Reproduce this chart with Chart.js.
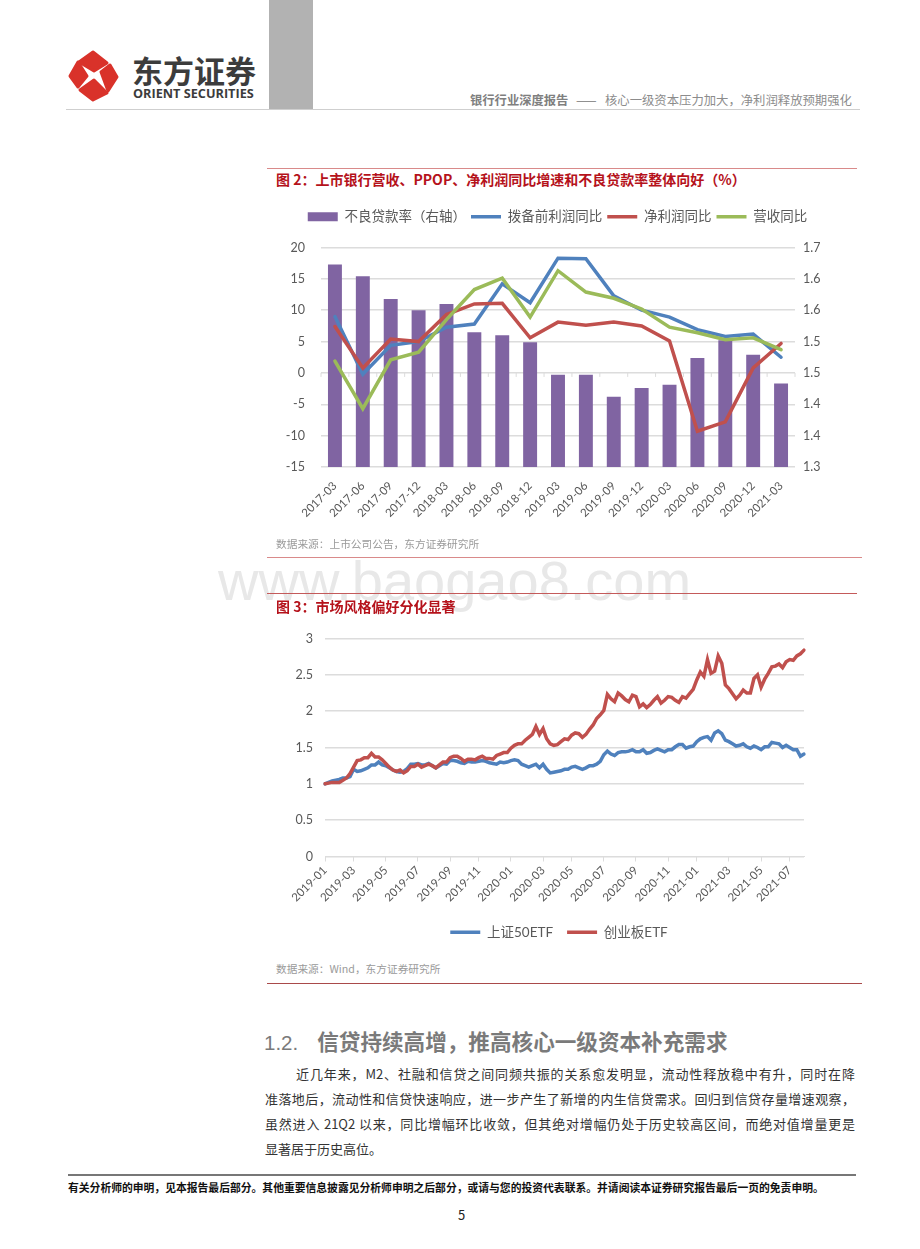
<!DOCTYPE html>
<html lang="zh">
<head>
<meta charset="utf-8">
<title>银行行业深度报告</title>
<script src="https://cdn.jsdelivr.net/npm/chart.js@4"></script>
<style>
  html, body { margin: 0; padding: 0; background: #fff; }
  body { position: relative; width: 920px; height: 1249px; overflow: hidden; font-family: "Noto Sans CJK SC", sans-serif; }
  .abs { position: absolute; white-space: nowrap; line-height: 1; }
  .rule { position: absolute; }
  canvas { position: absolute; }
  .body-line { position: absolute; left: 265px; width: 590px; font-size: 13px; line-height: 1; color: #333; text-align: justify; text-align-last: justify; white-space: normal; }
  .chart-title { color: #b5121b; font-size: 14px; font-weight: 700; left: 276px; }
  .source { color: #9a9a9a; font-size: 10.7px; left: 276px; }
</style>
</head>
<body>

<!-- page header -->
<div class="rule" style="left:269px;top:0;width:44px;height:109px;background:#b2b2b2"></div>
<div class="rule" style="left:66px;top:109px;width:794px;height:1px;background:#cfcfcf"></div>
<svg class="rule" style="left:60px;top:44px" width="66" height="64" viewBox="60 44 66 64">
  <g fill="#d9322a" stroke="#d9322a" stroke-width="3" stroke-linejoin="round">
    <polygon points="79,62 93,52 107,63 94,71"/>
    <polygon points="101,72 110,65 117,77 108,91"/>
    <polygon points="94,80 107,93 93,100 80,90"/>
    <polygon points="78,62 87,76 78,87 70,76"/>
  </g>
</svg>
<div class="abs" style="left:132px;top:54px;font-size:31px;font-weight:700;color:#3c3c3c">东方证券</div>
<div class="abs" style="left:133px;top:87px;font-size:12.7px;font-weight:700;color:#3c3c3c;font-family:'Open Sans',sans-serif">ORIENT SECURITIES</div>
<div class="abs" style="left:470px;top:94px;font-size:12.3px;font-weight:700;color:#7f7f7f">银行行业深度报告</div>
<div class="abs" style="left:576px;top:94px;font-size:12.3px;color:#777">——</div>
<div class="abs" style="left:605px;top:94px;font-size:12.35px;color:#8c8c8c">核心一级资本压力加大，净利润释放预期强化</div>

<!-- figure 2 -->
<div class="rule" style="left:267px;top:168px;width:590px;height:1px;background:#d98a8a"></div>
<div class="abs chart-title" style="top:172px">图 2：上市银行营收、PPOP、净利润同比增速和不良贷款率整体向好（%）</div>
<canvas id="bankChart" style="left:270px;top:205px;width:575px;height:335px"></canvas>
<div class="abs source" style="top:539px">数据来源：上市公司公告，东方证券研究所</div>
<div class="rule" style="left:267px;top:557px;width:595px;height:1px;background:#d98a8a"></div>

<div class="abs" style="left:218px;top:553px;font-size:56px;color:#e8e8e8;font-family:'Liberation Sans',sans-serif">www.baogao8.com</div>

<!-- figure 3 -->
<div class="rule" style="left:267px;top:593px;width:590px;height:1px;background:#c45a5a"></div>
<div class="abs chart-title" style="top:599px">图 3：市场风格偏好分化显著</div>
<canvas id="etfChart" style="left:270px;top:619px;width:578px;height:330px"></canvas>
<div class="abs source" style="top:964px">数据来源：Wind，东方证券研究所</div>
<div class="rule" style="left:267px;top:983px;width:595px;height:1px;background:#a94a4a"></div>

<!-- section text -->
<div class="abs" style="left:264px;top:1030px;font-size:21.6px;font-weight:700;color:#7a7a7a"><span style="font-weight:400;font-size:20.5px;font-family:'Liberation Sans',sans-serif">1.2.</span><span style="margin-left:19px">信贷持续高增，推高核心一级资本补充需求</span></div>
<div class="body-line" style="left:296px;width:559px;top:1067px">近几年来，M2、社融和信贷之间同频共振的关系愈发明显，流动性释放稳中有升，同时在降</div>
<div class="body-line" style="top:1092px">准落地后，流动性和信贷快速响应，进一步产生了新增的内生信贷需求。回归到信贷存量增速观察，</div>
<div class="body-line" style="top:1117px">虽然进入 21Q2 以来，同比增幅环比收敛，但其绝对增幅仍处于历史较高区间，而绝对值增量更是</div>
<div class="abs" style="left:265px;top:1142px;font-size:13px;color:#333">显著居于历史高位。</div>

<!-- page footer -->
<div class="rule" style="left:68px;top:1174px;width:788px;height:2px;background:#777"></div>
<div class="abs" style="left:68px;top:1182px;font-size:10.8px;font-weight:700;color:#111">有关分析师的申明，见本报告最后部分。其他重要信息披露见分析师申明之后部分，或请与您的投资代表联系。并请阅读本证券研究报告最后一页的免责申明。</div>
<div class="abs" style="left:458px;top:1208px;font-size:13px;color:#222">5</div>

<script>
/* ===============================
   DATA - FIGURE 2
================================ */
const quarters = [
  "2017-03", "2017-06", "2017-09", "2017-12", "2018-03", "2018-06", "2018-09", "2018-12", "2019-03",
  "2019-06", "2019-09", "2019-12", "2020-03", "2020-06", "2020-09", "2020-12", "2021-03"
];
const nplRatio = [1.623, 1.604, 1.568, 1.55, 1.56, 1.515, 1.51, 1.499, 1.447, 1.447, 1.412, 1.426, 1.431, 1.474, 1.502, 1.479, 1.433];
const ppopGrowth = [9.0, -0.2, 4.4, 5.0, 7.3, 7.8, 14.2, 11.2, 18.3, 18.2, 12.3, 10.0, 8.9, 6.9, 5.8, 6.2, 2.5];
const profitGrowth = [7.4, 0.8, 5.4, 5.0, 9.3, 11.0, 11.1, 5.6, 8.1, 7.6, 8.1, 7.5, 5.1, -9.3, -7.8, 0.8, 4.7];
const revenueGrowth = [1.9, -5.7, 2.1, 3.3, 8.5, 13.3, 15.1, 8.9, 16.3, 12.9, 11.9, 10.2, 7.3, 6.4, 5.3, 5.6, 3.7];
const leftTicks = [-15, -10, -5, 0, 5, 10, 15, 20];
const rightTickLabels = ["1.3", "1.4", "1.4", "1.5", "1.5", "1.6", "1.6", "1.7"];

/* ===============================
   DATA - FIGURE 3 (WEEKLY)
================================ */
const sse50Etf = [
  1.00, 1.02, 1.04, 1.05, 1.06, 1.08, 1.08, 1.10, 1.20, 1.17, 1.18, 1.20, 1.22, 1.26, 1.26, 1.30, 1.26, 1.25,
  1.22, 1.19, 1.17, 1.16, 1.17, 1.21, 1.27, 1.27, 1.28, 1.26, 1.26, 1.28, 1.25, 1.22, 1.25, 1.28, 1.27, 1.32,
  1.32, 1.31, 1.29, 1.28, 1.31, 1.30, 1.30, 1.31, 1.32, 1.31, 1.29, 1.28, 1.27, 1.30, 1.29, 1.30, 1.32, 1.33,
  1.32, 1.27, 1.25, 1.23, 1.25, 1.27, 1.22, 1.27, 1.20, 1.15, 1.16, 1.17, 1.18, 1.20, 1.20, 1.23, 1.24, 1.22,
  1.20, 1.22, 1.25, 1.25, 1.27, 1.31, 1.40, 1.45, 1.41, 1.39, 1.43, 1.44, 1.44, 1.45, 1.47, 1.44, 1.44, 1.47,
  1.42, 1.43, 1.46, 1.48, 1.46, 1.44, 1.47, 1.47, 1.51, 1.54, 1.54, 1.49, 1.51, 1.52, 1.58, 1.62, 1.64, 1.65,
  1.60, 1.70, 1.73, 1.69, 1.60, 1.58, 1.55, 1.52, 1.53, 1.55, 1.51, 1.49, 1.52, 1.50, 1.47, 1.51, 1.51, 1.57,
  1.56, 1.55, 1.50, 1.53, 1.50, 1.47, 1.47, 1.38, 1.41
];
const chinextEtf = [
  1.00, 1.01, 1.02, 1.02, 1.02, 1.05, 1.08, 1.14, 1.23, 1.32, 1.33, 1.36, 1.36, 1.42, 1.37, 1.37, 1.33, 1.28,
  1.23, 1.19, 1.17, 1.19, 1.15, 1.18, 1.24, 1.24, 1.27, 1.23, 1.25, 1.27, 1.25, 1.22, 1.26, 1.30, 1.30, 1.36,
  1.38, 1.38, 1.35, 1.31, 1.34, 1.34, 1.33, 1.36, 1.38, 1.35, 1.35, 1.34, 1.39, 1.41, 1.43, 1.43, 1.49, 1.53,
  1.55, 1.55, 1.60, 1.64, 1.68, 1.79, 1.68, 1.76, 1.62, 1.55, 1.53, 1.54, 1.58, 1.62, 1.61, 1.67, 1.70, 1.69,
  1.64, 1.68, 1.75, 1.81, 1.90, 1.95, 2.01, 2.23, 2.17, 2.13, 2.25, 2.21, 2.16, 2.13, 2.22, 2.20, 2.06, 2.10,
  2.05, 2.09, 2.15, 2.20, 2.11, 2.15, 2.20, 2.19, 2.15, 2.12, 2.20, 2.18, 2.24, 2.30, 2.43, 2.54, 2.48, 2.71,
  2.52, 2.55, 2.76, 2.66, 2.36, 2.31, 2.24, 2.17, 2.22, 2.29, 2.25, 2.25, 2.45, 2.50, 2.33, 2.44, 2.52, 2.61,
  2.62, 2.65, 2.60, 2.68, 2.71, 2.70, 2.76, 2.79, 2.84
];
// the first weekly point sits in the month named by each tick
const tickWeeks = [0, 8, 17, 26, 35, 43, 52, 61, 69, 78, 87, 96, 104, 113, 122, 130];
const tickMonths = [
  "2019-01", "2019-03", "2019-05", "2019-07", "2019-09", "2019-11", "2020-01", "2020-03",
  "2020-05", "2020-07", "2020-09", "2020-11", "2021-01", "2021-03", "2021-05", "2021-07"
];

/* ===============================
   SHARED STYLE
================================ */
const BLUE = "#4f81bd";
const RED = "#c0504d";
const GREEN = "#9bbb59";
const PURPLE = "#8064a2";
const GRID = "#dcdcdc";
const TEXT = "#595959";
const LATIN_FONT = "Lato, 'Noto Sans CJK SC', sans-serif";

function lineSet(label, data, color, order) {
  return {
    type: "line",
    label: label,
    data: data,
    order: order,
    borderColor: color,
    backgroundColor: color,
    borderWidth: 3.5,
    borderCapStyle: "round",
    pointStyle: "line",
    pointRadius: 0,
    pointHoverRadius: 0,
    pointBorderColor: color,
    pointBorderWidth: 3.5,
    tension: 0
  };
}

function legendLabels(padding) {
  return {
    usePointStyle: true,
    pointStyleWidth: 30,
    boxHeight: 9,
    padding: padding,
    color: TEXT,
    font: { family: LATIN_FONT, size: 13.5 },
    sort: (a, b) => a.datasetIndex - b.datasetIndex
  };
}

// Excel draws the category tick marks on the zero line
const zeroLineTicks = {
  id: "zeroLineTicks",
  beforeDatasetsDraw(chart) {
    const xScale = chart.scales.x;
    const yZero = chart.scales.y.getPixelForValue(0);
    const step = xScale.width / quarters.length;
    const ctx = chart.ctx;
    ctx.save();
    ctx.strokeStyle = GRID;
    ctx.lineWidth = 1;
    for (let i = 0; i <= quarters.length; i++) {
      const x = xScale.left + i * step;
      ctx.beginPath();
      ctx.moveTo(x, yZero);
      ctx.lineTo(x, yZero + 4);
      ctx.stroke();
    }
    ctx.restore();
  }
};

// room between the legend and the plot
const legendGap = {
  id: "legendGap",
  beforeInit(chart) {
    const fit = chart.legend.fit;
    chart.legend.fit = function () {
      fit.call(this);
      this.height += 14;
    };
  }
};

/* ===============================
   FIGURE 2
================================ */
new Chart(document.getElementById("bankChart"), {
  data: {
    labels: quarters,
    datasets: [
      {
        type: "bar",
        label: "不良贷款率（右轴）",
        data: nplRatio,
        yAxisID: "y1",
        order: 4,
        backgroundColor: PURPLE,
        pointStyle: "rect",
        barPercentage: 0.5,
        categoryPercentage: 1
      },
      lineSet("拨备前利润同比", ppopGrowth, BLUE, 3),
      lineSet("净利润同比", profitGrowth, RED, 2),
      lineSet("营收同比", revenueGrowth, GREEN, 1)
    ]
  },
  plugins: [zeroLineTicks, legendGap],
  options: {
    responsive: false,
    animation: false,
    plugins: {
      tooltip: { enabled: false },
      legend: { position: "top", labels: legendLabels(5) }
    },
    scales: {
      x: {
        grid: { display: false },
        border: { display: false },
        ticks: {
          autoSkip: false,
          minRotation: 45,
          maxRotation: 45,
          color: TEXT,
          padding: 4,
          font: { family: LATIN_FONT, size: 11.5 }
        },
        afterFit(scale) { scale.height = 73; }
      },
      y: {
        min: leftTicks[0],
        max: leftTicks[leftTicks.length - 1],
        grid: { color: GRID, lineWidth: 1.5, drawTicks: false },
        border: { display: false },
        afterBuildTicks(scale) { scale.ticks = leftTicks.map(v => ({ value: v })); },
        ticks: { color: TEXT, padding: 16, font: { family: LATIN_FONT, size: 12.5 } },
        afterFit(scale) { scale.width = 51; }
      },
      y1: {
        position: "right",
        min: 1.3,
        max: 1.65,
        grid: { display: false, drawTicks: false },
        border: { display: false },
        ticks: {
          stepSize: 0.05,
          color: TEXT,
          padding: 8,
          font: { family: LATIN_FONT, size: 12.5 },
          callback: (value, index) => rightTickLabels[index]
        },
        afterFit(scale) { scale.width = 50; }
      }
    }
  }
});

/* ===============================
   FIGURE 3
================================ */
new Chart(document.getElementById("etfChart"), {
  data: {
    labels: sse50Etf.map((v, week) => week),
    datasets: [
      lineSet("上证50ETF", sse50Etf, BLUE, 2),
      lineSet("创业板ETF", chinextEtf, RED, 1)
    ]
  },
  options: {
    responsive: false,
    animation: false,
    plugins: {
      tooltip: { enabled: false },
      legend: { position: "bottom", labels: legendLabels(14) }
    },
    scales: {
      x: {
        offset: false,
        grid: { drawOnChartArea: false, color: GRID, tickLength: 5 },
        border: { color: GRID },
        ticks: {
          autoSkip: false,
          minRotation: 45,
          maxRotation: 45,
          color: TEXT,
          padding: 2,
          font: { family: LATIN_FONT, size: 11.5 },
          callback: (value, index) => {
            const tick = tickWeeks.indexOf(index);
            return tick >= 0 ? tickMonths[tick] : null;
          }
        },
        afterFit(scale) { scale.height = 55; }
      },
      y: {
        min: 0,
        max: 3,
        grid: { color: GRID, lineWidth: 1.5, drawTicks: false },
        border: { display: false },
        ticks: {
          stepSize: 0.5,
          color: TEXT,
          padding: 12,
          font: { family: LATIN_FONT, size: 12.5 },
          callback: value => String(value)
        },
        afterFit(scale) { scale.width = 55; }
      },
      // empty right-hand axis keeps the legend centred on the whole canvas
      yRight: {
        position: "right",
        grid: { display: false },
        border: { display: false },
        ticks: { display: false },
        afterFit(scale) { scale.width = 44; }
      }
    }
  }
});
</script>
</body>
</html>
